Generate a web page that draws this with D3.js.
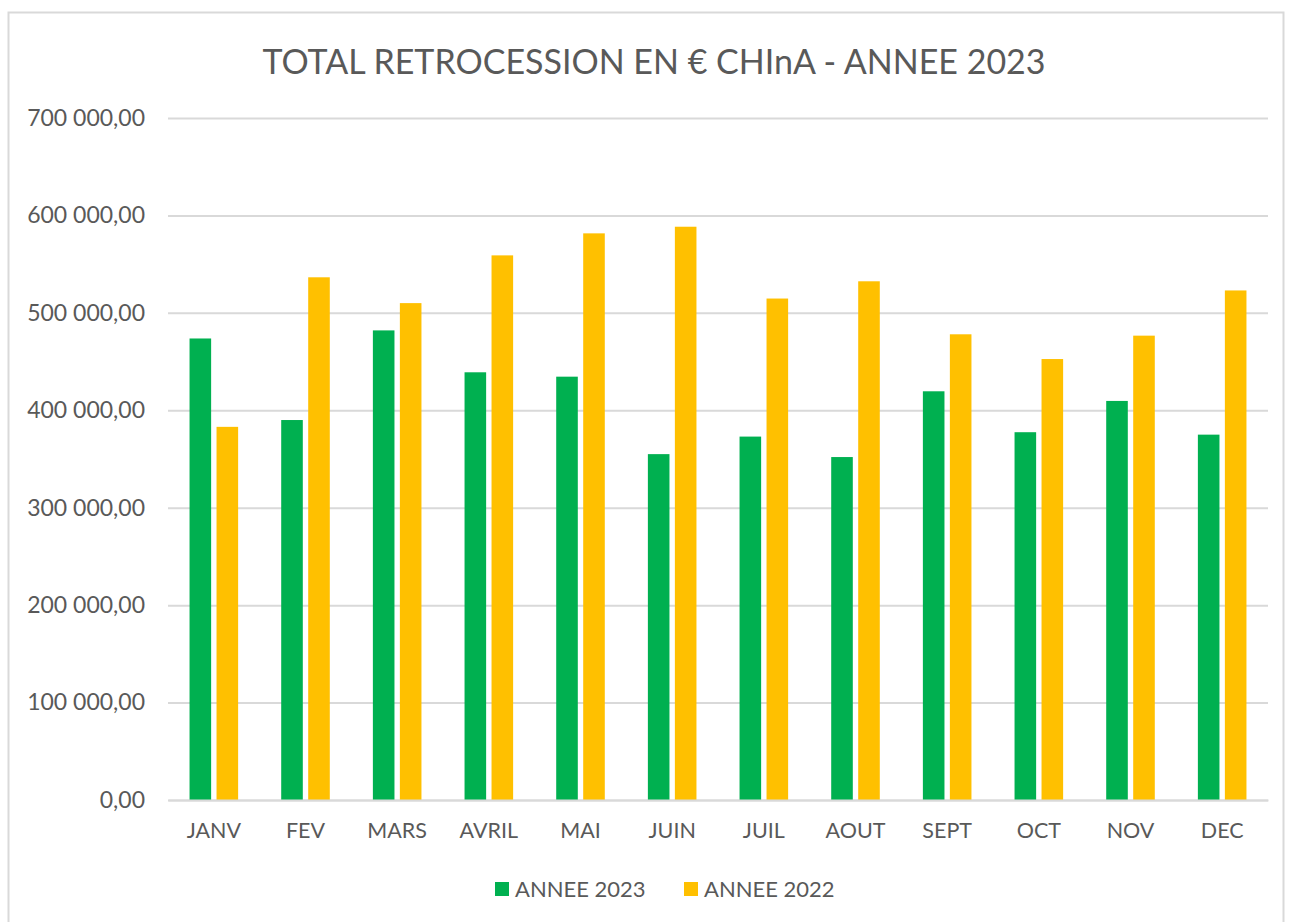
<!DOCTYPE html>
<html>
<head>
<meta charset="utf-8">
<script src="https://cdn.jsdelivr.net/npm/d3@7"></script>
<style>
  body { margin: 0; background: #fff; }
  text { font-family: Lato, "Open Sans", sans-serif; fill: #595959; }
</style>
</head>
<body>
<svg id="chart" width="1290" height="922"></svg>
<script>
// data
const months = ["JANV", "FEV", "MARS", "AVRIL", "MAI", "JUIN", "JUIL", "AOUT", "SEPT", "OCT", "NOV", "DEC"]
const seriesNames = ["ANNEE 2023", "ANNEE 2022"]
const annee2023 = [473700, 390000, 482000, 439000, 434500, 355000, 373000, 352000, 419500, 377500, 409600, 375000]
const annee2022 = [383000, 536500, 510000, 559000, 581600, 588400, 514700, 532400, 478000, 452600, 476600, 523000]
const yTicks = [0, 100000, 200000, 300000, 400000, 500000, 600000, 700000]
const colors = ["#00B050", "#FFC000"]

const width = 1290
const height = 922
const margin = { top: 118, right: 22, bottom: 122, left: 168 }

const svg = d3.select('#chart')

// outer frame
svg.append('rect')
    .attr('x', 8.5).attr('y', 12.5)
    .attr('width', 1275).attr('height', 930)
    .attr('fill', 'none')
    .attr('stroke', '#d9d9d9')
    .attr('stroke-width', 2)

const rows = months.map((m, i) => ({ month: m, values: [annee2023[i], annee2022[i]] }))

// scales
const x0 = d3.scaleBand()
    .domain(months)
    .range([margin.left, width - margin.right])
    .paddingInner(0.47)
    .paddingOuter(0.235)

const x1 = d3.scaleBand()
    .domain([0, 1])
    .range([0, x0.bandwidth()])
    .paddingInner(0.2)

const y = d3.scaleLinear()
    .domain([0, 700000])
    .range([height - margin.bottom, margin.top])

const fr = d3.formatLocale({ decimal: ",", thousands: "\u00a0", grouping: [3], currency: ["", " €"] })
const fmt = fr.format(",.2f")

// grid + y labels
const yAxis = d3.axisLeft(y)
    .tickValues(yTicks)
    .tickSize(-(width - margin.left - margin.right))
    .tickPadding(23)
    .tickFormat(fmt)

const gy = svg.append('g')
    .attr('transform', `translate(${margin.left},0)`)
    .call(yAxis)
gy.select('.domain').remove()
gy.selectAll('line').attr('stroke', '#d9d9d9').attr('stroke-width', 2)
gy.selectAll('text')
    .attr('font-size', 23)
    .attr('font-family', 'Lato, sans-serif')
    .attr('fill', '#595959')

// bars
const groups = svg.append('g')
    .selectAll('g')
    .data(rows)
    .join('g')
    .attr('transform', d => `translate(${x0(d.month)},0)`)

groups.selectAll('rect')
    .data(d => d.values.map((v, i) => ({ v, i })))
    .join('rect')
    .attr('x', d => x1(d.i))
    .attr('y', d => y(d.v))
    .attr('width', x1.bandwidth())
    .attr('height', d => y(0) - y(d.v))
    .attr('fill', d => colors[d.i])

// x axis
const xAxis = d3.axisBottom(x0).tickSize(0).tickPadding(23)
const gx = svg.append('g')
    .attr('transform', `translate(0,${height - margin.bottom})`)
    .call(xAxis)
gx.select('.domain').attr('stroke', '#d9d9d9').attr('stroke-width', 2)
gx.selectAll('text')
    .attr('font-size', 21.5)
    .attr('font-family', 'Lato, sans-serif')
    .attr('fill', '#595959')

// title
svg.append('text')
    .attr('x', 654)
    .attr('y', 74)
    .attr('text-anchor', 'middle')
    .attr('font-size', 34)
    .text('TOTAL RETROCESSION EN € CHInA - ANNEE 2023')

// legend
const legendX = [495, 684]
const legend = svg.append('g')
    .selectAll('g')
    .data(seriesNames)
    .join('g')
    .attr('transform', (d, i) => `translate(${legendX[i]},882)`)
legend.append('rect')
    .attr('width', 14).attr('height', 14)
    .attr('fill', (d, i) => colors[i])
legend.append('text')
    .attr('x', 20)
    .attr('y', 15)
    .attr('font-size', 22)
    .text(d => d)
</script>
</body>
</html>
